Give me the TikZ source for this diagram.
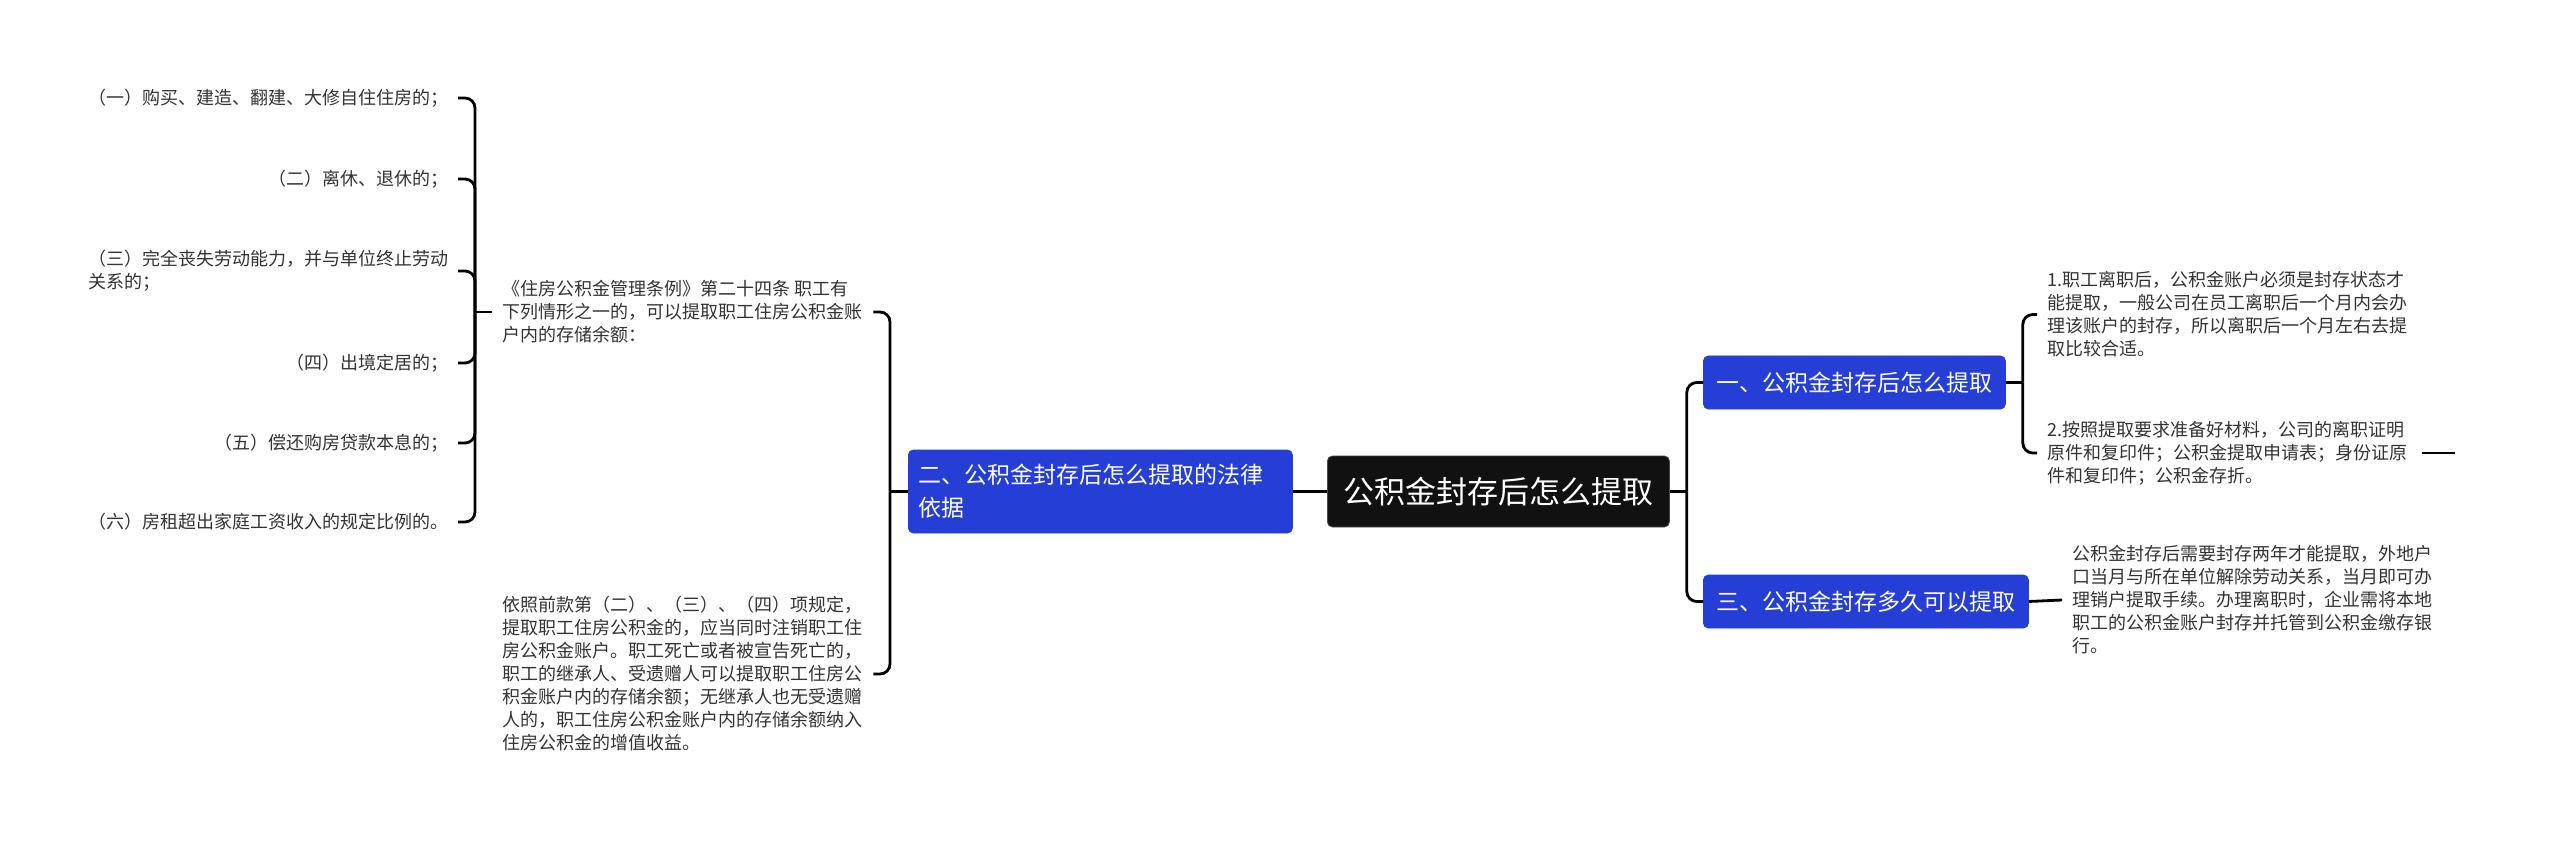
\documentclass[tikz,border=0pt]{standalone}
\usepackage{fontspec}
\setmainfont{Noto Sans CJK SC}
\usetikzlibrary{calc}
\definecolor{nodeblue}{RGB}{36,62,214}
\definecolor{leaftext}{RGB}{51,51,51}
\definecolor{rootblack}{RGB}{17,17,17}
\begin{document}
\begin{tikzpicture}[x=1pt,y=-1pt,
  conn/.style={line width=2.8pt, black, rounded corners=10pt},
  leaf/.style={inner sep=0pt, text=leaftext, font=\fontsize{18}{23}\selectfont, align=left},
  bluebox/.style={fill=nodeblue, draw=nodeblue, line width=0.8pt, rounded corners=5pt, text=white,
    font=\fontsize{23}{33}\selectfont, inner ysep=0pt, inner xsep=0pt, align=left},
  rootbox/.style={fill=rootblack, draw=black!70, line width=0.8pt, rounded corners=5pt, text=white,
    font=\fontsize{31}{36}\selectfont, inner sep=0pt, minimum width=342pt, minimum height=71pt}
]
\useasboundingbox (0,0) rectangle (2560,842);
\fill[white] (0,0) rectangle (2560,842);

% left leaves
\node[leaf, anchor=east] (L1) at (449,98) {（一）购买、建造、翻建、大修自住住房的；};
\node[leaf, anchor=east] (L2) at (449,179) {（二）离休、退休的；};
\node[leaf, anchor=east] (L3) at (449,271) {（三）完全丧失劳动能力，并与单位终止劳动\\关系的；};
\node[leaf, anchor=east] (L4) at (449,363) {（四）出境定居的；};
\node[leaf, anchor=east] (L5) at (449,443) {（五）偿还购房贷款本息的；};
\node[leaf, anchor=east] (L6) at (449,522) {（六）房租超出家庭工资收入的规定比例的。};

% middle texts
\node[leaf, anchor=west] (M1) at (502,312) {《住房公积金管理条例》第二十四条 职工有\\下列情形之一的，可以提取职工住房公积金账\\户内的存储余额：};
\node[leaf, anchor=west] (M2) at (502,674) {依照前款第（二）、（三）、（四）项规定，\\提取职工住房公积金的，应当同时注销职工住\\房公积金账户。职工死亡或者被宣告死亡的，\\职工的继承人、受遗赠人可以提取职工住房公\\积金账户内的存储余额；无继承人也无受遗赠\\人的，职工住房公积金账户内的存储余额纳入\\住房公积金的增值收益。};

% main boxes
\node[bluebox, anchor=west, text width=364pt, inner xsep=10pt, minimum height=83pt] (B2) at (908,491.5) {二、公积金封存后怎么提取的法律\\依据};
\node[rootbox, anchor=west] (R) at (1327,491.5) {公积金封存后怎么提取};
\node[bluebox, anchor=west, minimum width=302pt, minimum height=53pt, align=center] (B1) at (1703,382.5) {一、公积金封存后怎么提取};
\node[bluebox, anchor=west, minimum width=325pt, minimum height=53pt, align=center] (B3) at (1703,601.5) {三、公积金封存多久可以提取};

% right texts
\node[leaf, anchor=west] (R1) at (2047,314.5) {1.职工离职后，公积金账户必须是封存状态才\\能提取，一般公司在员工离职后一个月内会办\\理该账户的封存，所以离职后一个月左右去提\\取比较合适。};
\node[leaf, anchor=west] (R2) at (2047,453) {2.按照提取要求准备好材料，公司的离职证明\\原件和复印件；公积金提取申请表；身份证原\\件和复印件；公积金存折。};
\node[leaf, anchor=west] (R3) at (2072,600) {公积金封存后需要封存两年才能提取，外地户\\口当月与所在单位解除劳动关系，当月即可办\\理销户提取手续。办理离职时，企业需将本地\\职工的公积金账户封存并托管到公积金缴存银\\行。};

% connectors: left bracket
\coordinate (lb) at ([xshift=-27pt]M1.west);
\draw[conn] (M1.west) ++(-10,0) -- (lb);
\foreach \n in {L1,L2,L3,L4,L5,L6}
  \draw[conn] (lb) -- (lb |- \n.east) -- ([xshift=9pt]\n.east);

% middle bracket
\coordinate (mb) at ([xshift=-18pt]B2.west);
\draw[conn] (mb) -- (B2.west);
\coordinate (m1e) at ([xshift=11pt]M1.east);
\coordinate (m2e) at ([xshift=11pt]M2.east);
\draw[conn] (mb) -- (mb |- M1.east) -- (m1e);
\draw[conn] (mb) -- (mb |- M2.east) -- (m2e);

% root connections
\draw[conn] (B2.east) -- (R.west);
\coordinate (rb) at ([xshift=17pt]R.east);
\draw[conn] (R.east) -- (rb);
\draw[conn] (rb) -- (rb |- B1.west) -- (B1.west);
\draw[conn] (rb) -- (rb |- B3.west) -- (B3.west);

% box one bracket
\coordinate (b1b) at ([xshift=17pt]B1.east);
\draw[conn] (B1.east) -- (b1b);
\draw[conn] (b1b) -- (b1b |- R1.west) -- ([xshift=-10pt]R1.west);
\draw[conn] (b1b) -- (b1b |- R2.west) -- ([xshift=-10pt]R2.west);

% box three
\draw[conn] (B3.east) -- ([xshift=-10pt]R3.west);

% trailing stub
\coordinate (r2s) at ([xshift=15pt]R2.east);
\draw[conn] (r2s) -- ++(33,0);
\end{tikzpicture}
\end{document}
